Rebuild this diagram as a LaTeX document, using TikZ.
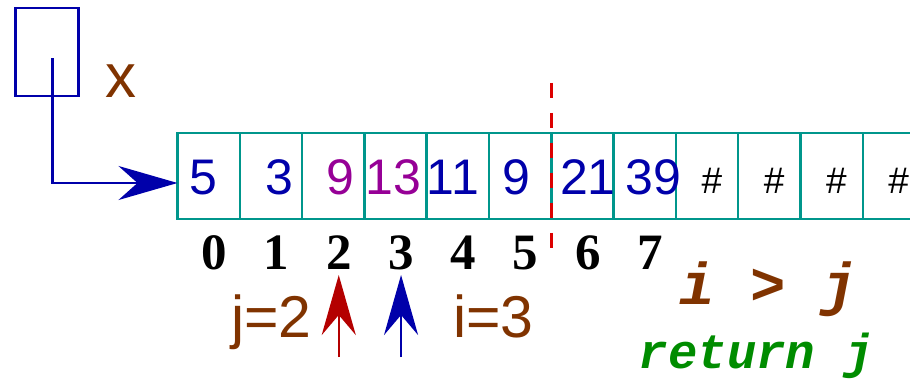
\documentclass[tikz,border=0pt]{standalone}
\usepackage{fontspec}
\setmainfont{Liberation Sans}
\setmonofont{Liberation Mono}
\newfontfamily\idxfont{Liberation Serif}
\usepackage{tikz}
\usetikzlibrary{arrows.meta,positioning}
\definecolor{ptrblue}{RGB}{0,0,170}
\definecolor{cellteal}{RGB}{0,150,140}
\definecolor{valpurple}{RGB}{150,0,150}
\definecolor{lblbrown}{RGB}{128,51,0}
\definecolor{jred}{RGB}{180,0,0}
\definecolor{cutred}{RGB}{220,0,0}
\definecolor{retgreen}{RGB}{0,140,0}

\begin{document}
\begin{tikzpicture}[x=1pt, y=1pt,
    node distance=0pt,
    cell/.style={draw=cellteal, line width=2.5pt, minimum width=62.3pt,
                 minimum height=86pt, inner sep=0pt, outer sep=0pt},
    val/.style={anchor=base, inner sep=0pt, text=ptrblue,
                font=\fontsize{50}{50}\selectfont},
    hot/.style={val, text=valpurple},
    hash/.style={anchor=base, inner sep=0pt, font=\fontsize{37}{37}\selectfont},
    idx/.style={anchor=base, inner sep=0pt,
                font=\idxfont\bfseries\fontsize{51}{51}\selectfont},
    lab/.style={inner sep=0pt, text=lblbrown, font=\fontsize{59}{59}\selectfont},
    code/.style={anchor=base, inner sep=0pt, font=\ttfamily\bfseries\itshape},
    ptr/.style={draw=ptrblue, line width=2.5pt,
                -{Stealth[length=59pt, width=34pt, inset=19pt]}},
    up/.style={line width=2.5pt, -{Stealth[length=60pt, width=34pt, inset=20pt]}}]
  \useasboundingbox (0,0) rectangle (910,-379);
  \clip (0,0) rectangle (910,-379);

  % pointer variable x
  \node[draw=ptrblue, line width=2.5pt, minimum width=63pt, minimum height=88pt,
        inner sep=0pt] (xbox) at (47.2,-52.2) {};
  \node[lab, anchor=base west, font=\fontsize{62}{62}\selectfont]
    (xlab) at ([xshift=25pt]xbox.south east) {x};
  \coordinate (xp) at (52.5,-58.5);

  % the array
  \node[cell] (c0) at (208.65,-176) {};
  \node[cell, right=of c0] (c1) {};
  \node[cell, right=of c1] (c2) {};
  \node[cell, right=of c2] (c3) {};
  \node[cell, right=of c3] (c4) {};
  \node[cell, right=of c4] (c5) {};
  \node[cell, right=of c5] (c6) {};
  \node[cell, right=of c6] (c7) {};
  \node[cell, right=of c7] (c8) {};
  \node[cell, right=of c8] (c9) {};
  \node[cell, right=of c9] (c10) {};
  \node[cell, right=of c10] (c11) {};

  \node[val] (v0) at ([shift={(-5.6,-19)}]c0.center) {5};
  \node[val] (v1) at ([shift={(8,-19)}]c1.center) {3};
  \node[hot] (v2) at ([shift={(7.5,-19)}]c2.center) {9};
  \node[hot] (v3) at ([shift={(-2,-19)}]c3.center) {13};
  \node[val] (v4) at ([shift={(-5,-19)}]c4.center) {11};
  \node[val] (v5) at ([shift={(-4,-19)}]c5.center) {9};
  \node[val] (v6) at ([shift={(5.5,-19)}]c6.center) {21};
  \node[val] (v7) at ([shift={(9,-19)}]c7.center) {39};
  \node[hash] (h8) at ([shift={(4.8,-18)}]c8.center) {\#};
  \node[hash] (h9) at ([shift={(4.8,-18)}]c9.center) {\#};
  \node[hash] (h10) at ([shift={(4.8,-18)}]c10.center) {\#};
  \node[hash] (h11) at ([shift={(4.8,-18)}]c11.center) {\#};

  % indices
  \node[idx] (n0) at ([shift={(5.5,-94)}]c0.center) {0};
  \node[idx] (n1) at ([shift={(5.5,-94)}]c1.center) {1};
  \node[idx] (n2) at ([shift={(5.5,-94)}]c2.center) {2};
  \node[idx] (n3) at ([shift={(5.5,-94)}]c3.center) {3};
  \node[idx] (n4) at ([shift={(5.5,-94)}]c4.center) {4};
  \node[idx] (n5) at ([shift={(5.5,-94)}]c5.center) {5};
  \node[idx] (n6) at ([shift={(5.5,-94)}]c6.center) {6};
  \node[idx] (n7) at ([shift={(5.5,-94)}]c7.center) {7};

  \draw[ptr] (xp) |- ([yshift=-7pt]c0.west);
  \draw[cutred, line width=2.5pt, dash pattern=on 15pt off 15pt]
    ([yshift=50pt]c5.north east) -- ([yshift=-31pt]c5.south east);

  % j and i
  \draw[up, jred] ([yshift=-87pt]n2.base) -- ([yshift=-5pt]n2.base);
  \draw[up, ptrblue] ([yshift=-87pt]n3.base) -- ([yshift=-5pt]n3.base);
  \node[lab, anchor=base east] (jlab) at (312,-337) {j=2};
  \node[lab, anchor=base west] (ilab) at (453,-337) {i=3};

  \node[code, text=lblbrown, font=\ttfamily\bfseries\itshape\fontsize{59}{59}\selectfont]
    (cond) at (768.5,-305) {i > j};
  \node[code, text=retgreen, font=\ttfamily\bfseries\itshape\fontsize{49}{49}\selectfont]
    (ret) at (756.5,-368) {return j};
\end{tikzpicture}
\end{document}
